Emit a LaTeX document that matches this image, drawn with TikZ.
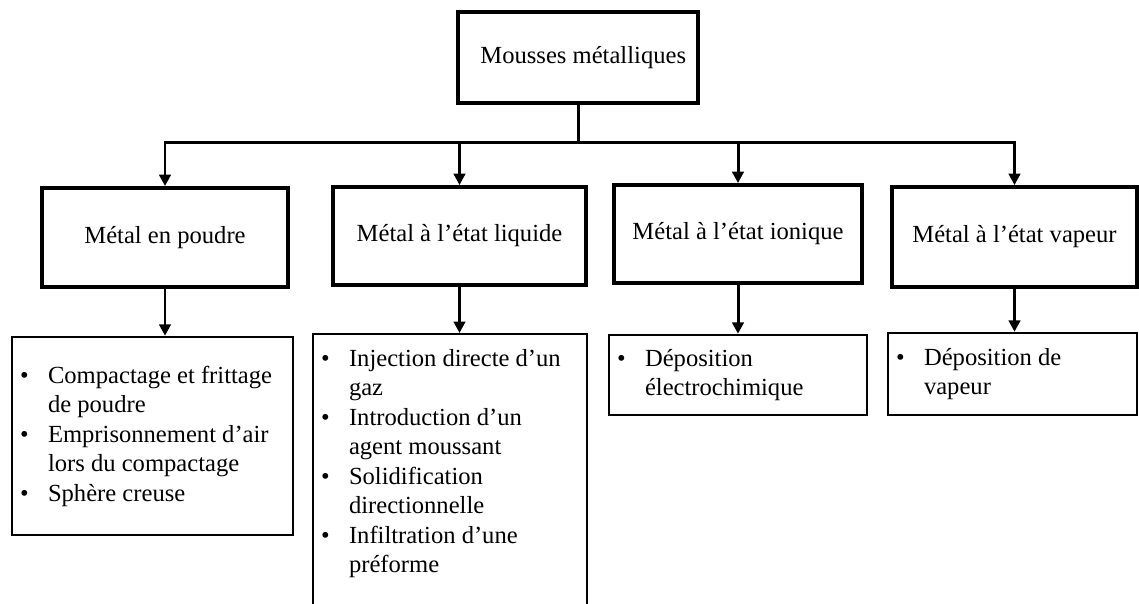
\documentclass[tikz,border=0pt]{standalone}
\usepackage{fontspec}
\setmainfont{Liberation Serif}
\usepackage{tikz}
\usetikzlibrary{arrows.meta,positioning}

% puces des listes
\newcommand{\puce}{\makebox[0.56cm][l]{\textbullet}}
\newcommand{\suite}{\hspace*{0.56cm}}

\begin{document}
\begin{tikzpicture}[
  x=0.02cm, y=-0.02cm,
  font=\fontsize{14pt}{16.8pt}\selectfont,
  box/.style={draw, rectangle, line width=2.2pt, align=center, inner sep=0pt},
  liste/.style={draw, rectangle, line width=1.4pt, align=flush left,
                inner xsep=0.16cm, inner ysep=0pt},
  arr/.style={-{Triangle[length=6.5pt,width=6.5pt]}, line width=1.7pt},
  trait/.style={line width=1.7pt}
]
\clip (0,0) rectangle (1139,603);

%% Niveau 1 : titre
\node[box, minimum width=4.8cm, minimum height=1.82cm] (top) at (578,57.5)
  {\hspace*{6pt}Mousses métalliques};

%% Niveau 2 : etat du metal
\node[box, minimum width=4.92cm, minimum height=1.98cm] (m1) at (165,237.5)
  {Métal en poudre};
\node[box, minimum width=5.06cm, minimum height=1.96cm] (m2) at (459.5,236)
  {Métal à l’état liquide};
\node[box, minimum width=4.96cm, minimum height=1.96cm] (m3) at (738,234)
  {Métal à l’état ionique};
\node[box, minimum width=4.9cm, minimum height=2.0cm] (m4) at (1014.5,237)
  {Métal à l’état vapeur};

%% Niveau 3 : procedes
\node[liste, text width=5.3cm, minimum height=3.96cm] (b1) at (152.5,436)
  {\puce Compactage et frittage\\
   \suite de poudre\\
   \puce Emprisonnement d’air\\
   \suite lors du compactage\\
   \puce Sphère creuse};
\node[liste, text width=5.16cm, inner ysep=0.3cm, anchor=north] (b2) at (450,333)
  {\puce Injection directe d’un\\
   \suite gaz\\
   \puce Introduction d’un\\
   \suite agent moussant\\
   \puce Solidification\\
   \suite directionnelle\\
   \puce Infiltration d’une\\
   \suite préforme\rule[-3cm]{0pt}{0pt}};
\node[liste, text width=4.84cm, minimum height=1.6cm] (b3) at (738,375)
  {\puce Déposition\\
   \suite électrochimique};
\node[liste, text width=4.66cm, minimum height=1.64cm] (b4) at (1012.5,374)
  {\puce Déposition de\\
   \suite vapeur};

%% Liaisons
\draw[trait] (top.south) -- (top.south |- 0,142) coordinate (bus);
\foreach \m in {m1,m2,m3,m4}
  \draw[arr] (bus) -| (\m.north);

\draw[arr] (m1.south) -- (m1.south |- b1.north);
\draw[arr] (m2.south) -- (m2.south |- b2.north);
\draw[arr] (m3.south) -- (m3.south |- b3.north);
\draw[arr] (m4.south) -- (m4.south |- b4.north);

\end{tikzpicture}
\end{document}
